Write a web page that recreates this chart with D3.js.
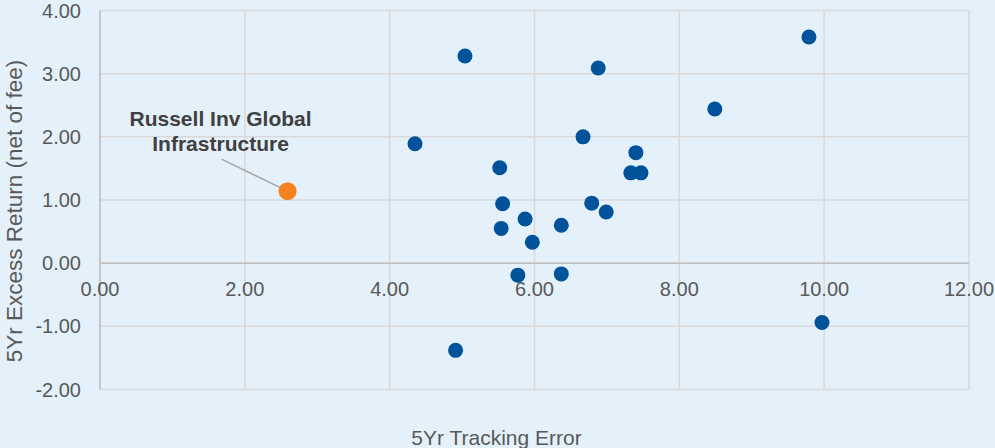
<html>
  <head>
    <meta charset="utf-8">
    <script src="https://d3js.org/d3.v7.min.js"></script>
    <style>
      body {margin:0; background:#e4f1fa;}
      text {font-family: "Liberation Sans", Arial, sans-serif;}
    </style>
  </head>
  <body>
    <div id="chart1"></div>
    <script>
      // peer funds: tracking error vs excess return
      var trackingError = [4.35, 5.04, 4.91, 5.52, 5.56, 5.54, 5.87, 5.97, 5.77, 6.37, 6.37, 6.67, 6.88, 6.79, 6.99, 7.33, 7.47, 7.40, 8.49, 9.79, 9.97];
      var excessReturn  = [1.89, 3.28, -1.38, 1.51, 0.94, 0.55, 0.70, 0.33, -0.19, 0.60, -0.17, 2.00, 3.09, 0.95, 0.81, 1.43, 1.43, 1.75, 2.44, 3.58, -0.94];
      var fundName = ["Russell Inv Global", "Infrastructure"];
      var fundTE = [2.59];
      var fundER = [1.14];
      var xTicks = [0, 2, 4, 6, 8, 10, 12];
      var yTicks = [-2, -1, 0, 1, 2, 3, 4];

      var peers = trackingError.map(function(d, i){ return {x: d, y: excessReturn[i]}; });
      var fund = fundTE.map(function(d, i){ return {x: d, y: fundER[i]}; });

      var margin = {top: 10.5, right: 26, bottom: 58.5, left: 100},
          width = 995 - margin.left - margin.right,
          height = 448 - margin.top - margin.bottom;

      var fmt = function(d){ return d.toFixed(2); };

      var svg = d3.select("#chart1")
        .append("svg")
          .attr("width", 995)
          .attr("height", 448)
          .attr("style", "background-color:#e4f1fa;")
        .append("g")
          .attr("transform", "translate(" + margin.left + "," + margin.top + ")");

      var x = d3.scaleLinear().domain([0, 12]).range([0, width]);
      var y = d3.scaleLinear().domain([-2, 4]).range([height, 0]);

      // gridlines
      svg.append("g")
        .selectAll("line")
        .data(yTicks)
        .enter()
        .append("line")
          .attr("x1", 0).attr("x2", width)
          .attr("y1", function(d){ return y(d); })
          .attr("y2", function(d){ return y(d); })
          .style("stroke", "#d9d9d9")
          .style("stroke-width", 1.5);
      svg.append("g")
        .selectAll("line")
        .data(xTicks)
        .enter()
        .append("line")
          .attr("y1", 0).attr("y2", height)
          .attr("x1", function(d){ return x(d); })
          .attr("x2", function(d){ return x(d); })
          .style("stroke", "#d9d9d9")
          .style("stroke-width", 1.5);

      // axis lines through zero
      svg.append("line")
        .attr("x1", 0).attr("x2", width)
        .attr("y1", y(0)).attr("y2", y(0))
        .style("stroke", "#bfbfbf").style("stroke-width", 1.5);
      svg.append("line")
        .attr("x1", x(0)).attr("x2", x(0))
        .attr("y1", 0).attr("y2", height)
        .style("stroke", "#bfbfbf").style("stroke-width", 1.5);

      // tick labels
      svg.selectAll("text.ytick")
        .data(yTicks)
        .enter()
        .append("text")
          .attr("class", "ytick")
          .attr("x", -19)
          .attr("y", function(d){ return y(d) + 7; })
          .attr("text-anchor", "end")
          .style("fill", "#595959")
          .style("font-size", "20px")
          .text(fmt);
      svg.selectAll("text.xtick")
        .data(xTicks)
        .enter()
        .append("text")
          .attr("class", "xtick")
          .attr("x", function(d){ return x(d); })
          .attr("y", y(0) + 33)
          .attr("text-anchor", "middle")
          .style("fill", "#595959")
          .style("font-size", "20px")
          .text(fmt);

      // axis titles
      svg.append("text")
        .attr("x", width / 2 - 38)
        .attr("y", height + 55)
        .attr("text-anchor", "middle")
        .style("fill", "#595959")
        .style("font-size", "21px")
        .text("5Yr Tracking Error");
      svg.append("text")
        .attr("transform", "translate(-78," + (height / 2 + 11) + ") rotate(-90)")
        .attr("text-anchor", "middle")
        .style("fill", "#595959")
        .style("font-size", "22.5px")
        .text("5Yr Excess Return (net of fee)");

      // peers
      svg.selectAll("circle.peer")
        .data(peers)
        .enter()
        .append("circle")
          .attr("class", "peer")
          .attr("cx", function(d){ return x(d.x); })
          .attr("cy", function(d){ return y(d.y); })
          .attr("r", 7.5)
          .style("fill", "#00539b");

      // highlighted fund + label
      var fx = x(fund[0].x), fy = y(fund[0].y);
      svg.append("line")
        .attr("x1", fx - 66).attr("y1", fy - 32)
        .attr("x2", fx - 2).attr("y2", fy - 1)
        .style("stroke", "#a6a6a6").style("stroke-width", 1.5);
      svg.append("circle")
        .attr("cx", fx)
        .attr("cy", fy)
        .attr("r", 9)
        .style("fill", "#f58220");
      svg.append("text")
        .attr("x", fx - 67)
        .attr("y", fy - 65)
        .attr("text-anchor", "middle")
        .style("fill", "#404040")
        .style("font-size", "21px")
        .style("font-weight", "bold")
        .selectAll("tspan")
        .data(fundName)
        .enter()
        .append("tspan")
          .attr("x", fx - 67)
          .attr("dy", function(d, i){ return i == 0 ? 0 : 25; })
          .text(function(d){ return d; });
    </script>
  </body>
</html>
